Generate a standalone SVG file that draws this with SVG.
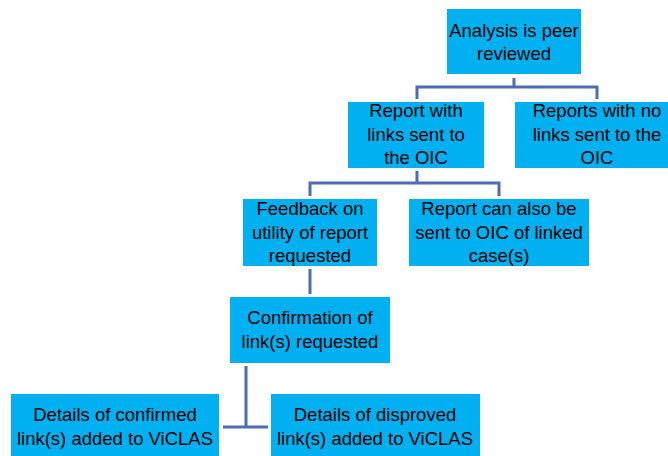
<svg xmlns="http://www.w3.org/2000/svg" width="668" height="456" viewBox="0 0 668 456">
<style>
.box{fill:#00B0F0;}
.t{font-family:"Liberation Sans",Arial,sans-serif;font-size:18.5px;fill:#000;text-anchor:middle;}
.c{stroke:#4A6DB3;stroke-width:3;fill:none;}
</style>
<rect width="668" height="456" fill="#fff"/>
<g id="connectors">
<path class="c" d="M514,78 V87 M417,99 V87 H597 V99"/>
<path class="c" d="M417,171 V183 M310,196 V183 H499 V196"/>
<path class="c" d="M310,269 V294"/>
<path class="c" d="M246,366 V427 M223,427 H268"/>
</g>
<g id="n1"><rect class="box" x="447" y="9" width="134" height="65"/>
<text class="t" x="514" y="37">Analysis is peer</text><text class="t" x="514" y="60">reviewed</text></g>
<g id="n2"><rect class="box" x="348" y="102" width="136" height="66"/>
<text class="t" x="416" y="117">Report with</text><text class="t" x="416" y="141">links sent to</text><text class="t" x="416" y="164">the OIC</text></g>
<g id="n3"><rect class="box" x="515" y="102" width="165" height="66"/>
<text class="t" x="597" y="117">Reports with no</text><text class="t" x="597" y="141">links sent to the</text><text class="t" x="597" y="164">OIC</text></g>
<g id="n4"><rect class="box" x="243" y="199" width="134" height="67"/>
<text class="t" x="310" y="215">Feedback on</text><text class="t" x="310" y="239">utility of report</text><text class="t" x="310" y="262">requested</text></g>
<g id="n5"><rect class="box" x="409" y="199" width="180" height="67"/>
<text class="t" x="499" y="215">Report can also be</text><text class="t" x="499" y="239">sent to OIC of linked</text><text class="t" x="499" y="262">case(s)</text></g>
<g id="n6"><rect class="box" x="230" y="297" width="160" height="66"/>
<text class="t" x="310" y="324">Confirmation of</text><text class="t" x="310" y="348">link(s) requested</text></g>
<g id="n7"><rect class="box" x="11" y="394" width="208" height="70"/>
<text class="t" x="115" y="421">Details of confirmed</text><text class="t" x="115" y="445">link(s) added to ViCLAS</text></g>
<g id="n8"><rect class="box" x="271" y="394" width="209" height="70"/>
<text class="t" x="375" y="421">Details of disproved</text><text class="t" x="375" y="445">link(s) added to ViCLAS</text></g>
</svg>
